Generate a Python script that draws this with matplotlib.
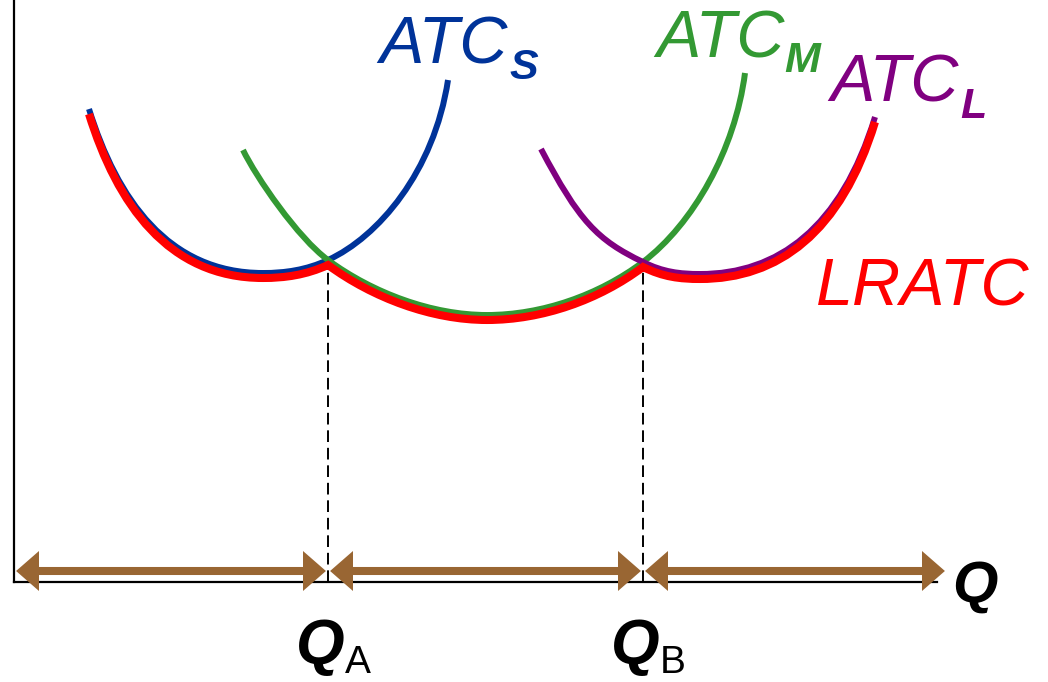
import numpy as np
import matplotlib.pyplot as plt
from matplotlib import transforms
from matplotlib.path import Path
from matplotlib.patches import PathPatch, FancyArrowPatch, ArrowStyle

# === Data: cubic bezier vertices (quantity, cost) ===
# each curve: start, [ctrl, ctrl, node] ...   nodes at minimum and at Q_A / Q_B
ATC_S_Q = [75, 103, 154, 249, 271, 292, 314, 364, 420, 434]
ATC_S_C = [473, 383, 309, 309, 309, 312, 322, 345, 410, 502]

ATC_M_Q = [229, 242, 284, 314, 359, 418, 473, 528, 585, 629, 679, 721, 731]
ATC_M_C = [432, 405, 344, 322, 289, 267, 267, 267, 287, 320, 358, 432, 509]

ATC_L_Q = [527, 565, 583, 629, 649, 666, 686, 764, 827, 861]
ATC_L_C = [433, 361, 342, 320, 310, 308, 308, 308, 354, 465]

Q_A = 314
Q_B = 629
Q_END = 933
ARROW_C = 11

# === Style ===
BLUE = "#003399"
GREEN = "#339933"
PURPLE = "#800080"
RED = "#ff0000"
BROWN = "#996633"
FONT = "Liberation Sans"


def bez_path(q, c):
    verts = np.column_stack([q, c])
    codes = [Path.MOVETO] + [Path.CURVE4] * (len(verts) - 1)
    return Path(verts, codes)


fig = plt.figure(figsize=(10.48, 6.82), dpi=100)
ax = fig.add_axes([14 / 1048, 100 / 682, 923 / 1048, 582 / 682])
ax.set_xlim(0, 923)
ax.set_ylim(0, 582)
ax.set_xticks([])
ax.set_yticks([])
for side in ["top", "right"]:
    ax.spines[side].set_visible(False)
for side in ["left", "bottom"]:
    ax.spines[side].set_linewidth(1.6)

# short-run curves
curves = [(ATC_S_Q, ATC_S_C, BLUE), (ATC_M_Q, ATC_M_C, GREEN), (ATC_L_Q, ATC_L_C, PURPLE)]
for q, c, col in curves:
    ax.add_patch(PathPatch(bez_path(q, c), fill=False, edgecolor=col, lw=4.3,
                           capstyle="butt", zorder=2))

# LRATC = lower envelope (S up to Q_A, M from Q_A to Q_B, L after Q_B), drawn a bit lower
env_q = ATC_S_Q[:7] + ATC_M_Q[4:10] + ATC_L_Q[4:]
env_c = ATC_S_C[:7] + ATC_M_C[4:10] + ATC_L_C[4:]
red_tr = transforms.offset_copy(ax.transData, fig=fig, x=0, y=-5, units="dots")
ax.add_patch(PathPatch(bez_path(env_q, env_c), fill=False, edgecolor=RED, lw=5.8,
                       capstyle="butt", joinstyle="miter", transform=red_tr, zorder=3))

# dashed drop lines
c_a = ATC_S_C[ATC_S_Q.index(Q_A)]
c_b = ATC_M_C[ATC_M_Q.index(Q_B)]
for q0, c0 in [(Q_A, c_a), (Q_B, c_b)]:
    ax.plot([q0, q0], [0, c0 - 4], color="black", lw=1.4,
            linestyle=(0, (6, 3)), zorder=1)

# brown double arrows
bounds = [0, Q_A, Q_B, Q_END]
for a, b in zip(bounds[:-1], bounds[1:]):
    shaft = FancyArrowPatch((a, ARROW_C), (b, ARROW_C), arrowstyle="-",
                            lw=5.8, color=BROWN, shrinkA=14, shrinkB=14,
                            capstyle="butt", clip_on=False, zorder=4)
    heads = FancyArrowPatch((a, ARROW_C), (b, ARROW_C),
                            arrowstyle=ArrowStyle("<|-|>", head_length=16.5, head_width=14.4),
                            mutation_scale=1, lw=0, color=BROWN,
                            shrinkA=1.5, shrinkB=1.5, clip_on=False, zorder=4)
    ax.add_patch(shaft)
    ax.add_patch(heads)


# curve labels
def label(x, y, main, sub, col, xs, ys):
    ax.text(x, y, main, color=col, fontsize=48, fontstyle="italic",
            family=FONT, va="baseline", ha="left", clip_on=False)
    ax.text(xs, ys, sub, color=col, fontsize=31, fontstyle="italic",
            fontweight="bold", family=FONT, va="baseline", ha="left", clip_on=False)


label(365, 518, "ATC", "S", BLUE, 495, 503)
label(642, 525, "ATC", "M", GREEN, 770, 510)
label(816, 481, "ATC", "L", PURPLE, 946, 464)
ax.text(802, 277, "LRATC", color=RED, fontsize=48, fontstyle="italic",
        family=FONT, va="baseline", ha="left", clip_on=False)

# axis labels
ax.text(938, -20, "Q", fontsize=42, fontstyle="italic", fontweight="bold",
        family=FONT, va="baseline", ha="left", clip_on=False)
for q0, sub in [(Q_A, "A"), (Q_B, "B")]:
    ax.text(q0 - 32, -81, "Q", fontsize=45, fontstyle="italic", fontweight="bold",
            family=FONT, va="baseline", ha="left", clip_on=False)
    ax.text(q0 + 17, -91, sub, fontsize=28, family=FONT,
            va="baseline", ha="left", clip_on=False)

fig.savefig("out.png", dpi=100)
